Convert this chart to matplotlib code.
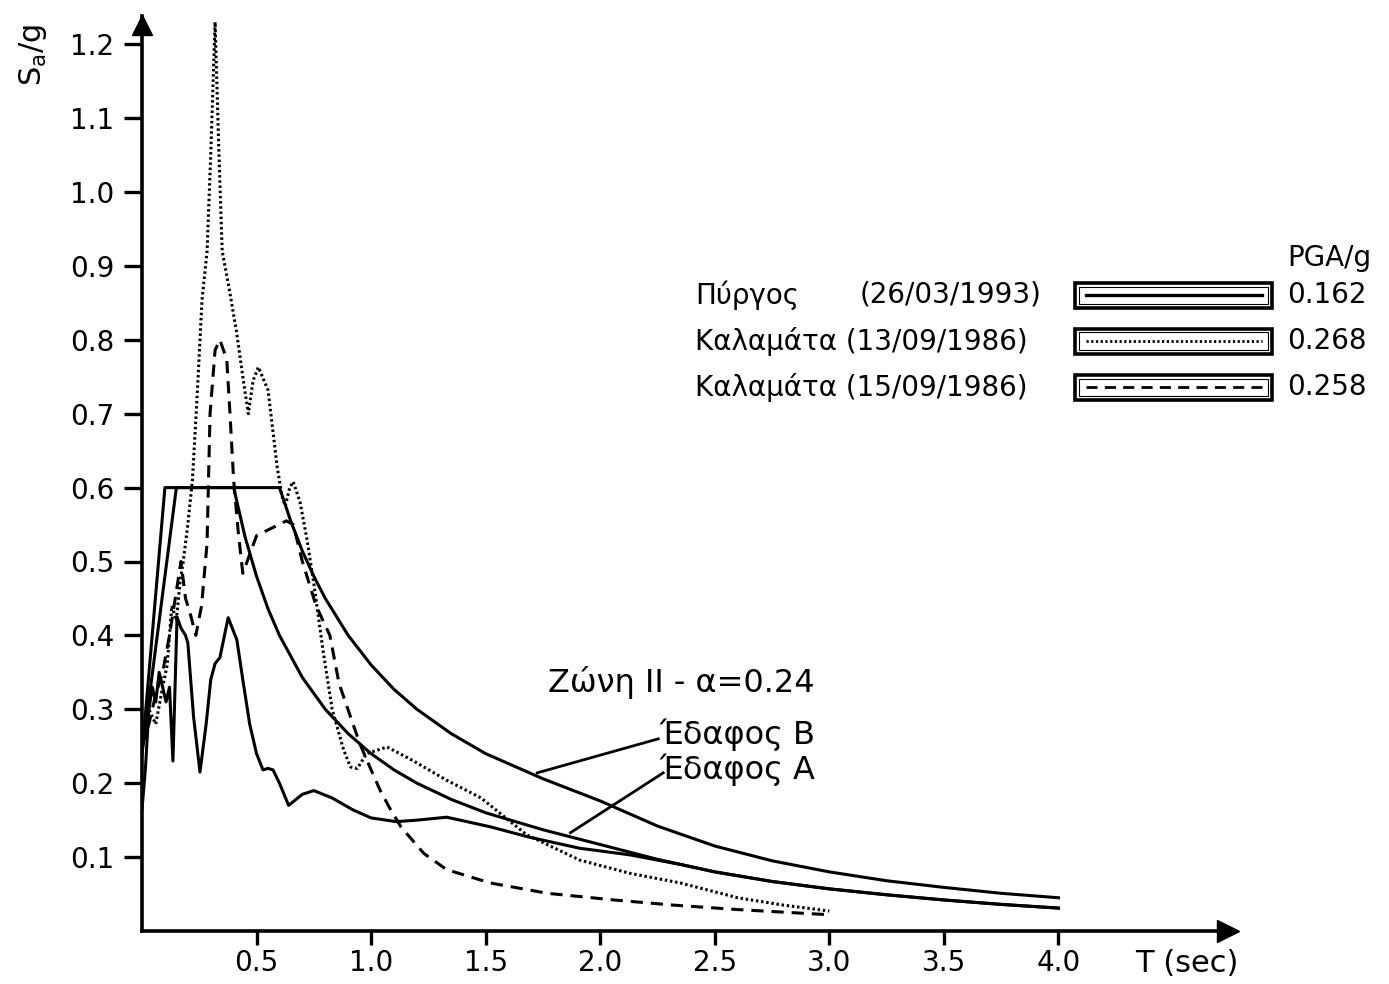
import matplotlib
matplotlib.use("Agg")
from matplotlib import pyplot as plt
from matplotlib.patches import Rectangle
from matplotlib.lines import Line2D

plt.rcParams['font.family'] = ['DejaVu Sans']
plt.rcParams['mathtext.default'] = 'regular'

# design spectra (Zone II, a=0.24)
soilA_T = [0, 0.1, 0.4, 0.45, 0.5, 0.55, 0.6, 0.7, 0.8, 0.9, 1.0, 1.1, 1.2, 1.35, 1.5, 1.75,
           2.0, 2.25, 2.5, 2.75, 3.0, 3.25, 3.5, 3.75, 4.0]
soilA_S = [0.24, 0.6, 0.6, 0.533, 0.48, 0.436, 0.40, 0.343, 0.30, 0.267, 0.24, 0.218, 0.20,
           0.178, 0.16, 0.137, 0.117, 0.097, 0.080, 0.067, 0.057, 0.049, 0.042, 0.036, 0.031]
soilB_T = [0, 0.15, 0.6, 0.65, 0.7, 0.75, 0.8, 0.9, 1.0, 1.1, 1.2, 1.35, 1.5, 1.75, 2.0,
           2.25, 2.5, 2.75, 3.0, 3.25, 3.5, 3.75, 4.0]
soilB_S = [0.24, 0.6, 0.6, 0.554, 0.514, 0.48, 0.45, 0.40, 0.36, 0.327, 0.30, 0.267, 0.24,
           0.206, 0.176, 0.142, 0.115, 0.095, 0.080, 0.068, 0.059, 0.051, 0.045]

# Pyrgos 26/03/1993
pyr_T = [0, 0.015, 0.03, 0.045, 0.06, 0.075, 0.09, 0.105, 0.12, 0.135, 0.153, 0.17, 0.19,
         0.2, 0.225, 0.253, 0.28, 0.30, 0.319, 0.34, 0.376, 0.414, 0.44, 0.47, 0.5, 0.528,
         0.55, 0.572, 0.6, 0.64, 0.70, 0.75, 0.83, 0.92, 1.0, 1.11, 1.2, 1.33, 1.52, 1.69,
         1.91, 2.13, 2.35, 2.5, 2.75, 3.0, 3.25, 3.5, 3.75, 4.0]
pyr_S = [0.165, 0.22, 0.30, 0.33, 0.31, 0.35, 0.33, 0.31, 0.33, 0.23, 0.425, 0.41, 0.40,
         0.39, 0.29, 0.215, 0.28, 0.34, 0.362, 0.37, 0.424, 0.394, 0.34, 0.28, 0.24, 0.218,
         0.22, 0.218, 0.20, 0.17, 0.185, 0.19, 0.18, 0.164, 0.153, 0.148, 0.15, 0.154, 0.141,
         0.127, 0.112, 0.103, 0.090, 0.080, 0.067, 0.057, 0.049, 0.042, 0.036, 0.031]

# Kalamata 13/09/1986
kal1_T = [0, 0.03, 0.06, 0.09, 0.11, 0.13, 0.15, 0.165, 0.18, 0.2, 0.22, 0.24, 0.262, 0.284,
          0.30, 0.319, 0.335, 0.35, 0.38, 0.413, 0.44, 0.464, 0.485, 0.508, 0.55, 0.59, 0.61,
          0.625, 0.645, 0.66, 0.69, 0.72, 0.75, 0.79, 0.83, 0.88, 0.91, 0.94, 0.98, 1.07,
          1.18, 1.33, 1.48, 1.68, 1.91, 2.13, 2.35, 2.6, 2.8, 3.0]
kal1_S = [0.26, 0.30, 0.28, 0.33, 0.36, 0.44, 0.42, 0.47, 0.50, 0.55, 0.61, 0.72, 0.854,
          0.92, 1.05, 1.23, 1.06, 0.92, 0.87, 0.81, 0.75, 0.70, 0.745, 0.763, 0.732, 0.628,
          0.59, 0.575, 0.60, 0.608, 0.58, 0.53, 0.47, 0.38, 0.30, 0.245, 0.222, 0.22, 0.24,
          0.249, 0.231, 0.204, 0.18, 0.13, 0.096, 0.078, 0.065, 0.045, 0.035, 0.027]

# Kalamata 15/09/1986
kal2_T = [0, 0.03, 0.06, 0.09, 0.12, 0.15, 0.17, 0.19, 0.21, 0.235, 0.26, 0.284, 0.297,
          0.319, 0.34, 0.37, 0.384, 0.40, 0.42, 0.44, 0.50, 0.63, 0.66, 0.70, 0.74,
          0.76, 0.82, 0.86, 0.91, 0.95, 1.0, 1.04, 1.08, 1.13, 1.23, 1.33, 1.52, 1.77, 2.06,
          2.32, 2.6, 3.0]
kal2_S = [0.25, 0.28, 0.32, 0.35, 0.40, 0.46, 0.50, 0.45, 0.43, 0.40, 0.44, 0.525, 0.70,
          0.786, 0.80, 0.773, 0.70, 0.61, 0.54, 0.484, 0.535, 0.555, 0.55, 0.50, 0.46,
          0.44, 0.40, 0.335, 0.29, 0.254, 0.218, 0.19, 0.167, 0.141, 0.105, 0.083, 0.065,
          0.051, 0.042, 0.035, 0.029, 0.022]

legend_names = ["Πύργος", "Καλαμάτα (13/09/1986)", "Καλαμάτα (15/09/1986)"]
legend_pga = ["0.162", "0.268", "0.258"]

xticks = [0.5, 1.0, 1.5, 2.0, 2.5, 3.0, 3.5, 4.0]
yticks = [0.1, 0.2, 0.3, 0.4, 0.5, 0.6, 0.7, 0.8, 0.9, 1.0, 1.1, 1.2]

W, H = 1389, 984
fig = plt.figure(figsize=(W / 100, H / 100), dpi=100)
ax = fig.add_axes([142 / W, 53 / H, (1228 - 142) / W, (931 - 16) / H])

lw = 2.2
solid = dict(color='k', lw=lw, solid_joinstyle='round')
ax.plot(soilA_T, soilA_S, **solid)
ax.plot(soilB_T, soilB_S, **solid)
ax.plot(pyr_T, pyr_S, **solid)
ax.plot(kal1_T, kal1_S, color='k', lw=2.2, linestyle=(0, (0.8, 0.9)))
ax.plot(kal2_T, kal2_S, color='k', lw=2.2, linestyle=(0, (4, 2.6)))

ax.set_xlim(0, 4.74)
ax.set_ylim(0, 915 / 739)

for s in ['top', 'right']:
    ax.spines[s].set_visible(False)
for s in ['left', 'bottom']:
    ax.spines[s].set_linewidth(2.6)

ax.set_xticks(xticks)
ax.set_xticklabels(["%.1f" % t for t in xticks])
ax.set_yticks(yticks)
ax.set_yticklabels(["%.1f" % t for t in yticks])
ax.tick_params(axis='both', width=2.4, labelsize=20, colors='k')
ax.tick_params(axis='y', length=13, pad=7)
ax.tick_params(axis='x', length=10, pad=3)

# arrow heads
ax.plot(1, 0, marker='>', color='k', markersize=16, transform=ax.transAxes, clip_on=False)
ax.plot(0, 0.99, marker='^', color='k', markersize=14, transform=ax.transAxes, clip_on=False)

# axis labels
fig.text(33 / W, 1 - 55 / H, r'S$_{a}$/g', rotation=90, fontsize=22, ha='center', va='center')
fig.text(1135 / W, 1 - 963 / H, "T (sec)", fontsize=22, ha='left', va='center')

# annotations
ax.text(1.77, 0.336, "Ζώνη II - α=0.24", fontsize=23, ha='left', va='center')
ax.text(2.26, 0.265, "Έδαφος B", fontsize=23, ha='left', va='center')
ax.text(2.26, 0.218, "Έδαφος A", fontsize=23, ha='left', va='center')
ax.plot([1.725, 2.253], [0.214, 0.26], color='k', lw=2)
ax.plot([1.87, 2.275], [0.133, 0.214], color='k', lw=2)

# legend
rows_y = [295, 341, 387]
styles = ['-', (0, (0.8, 0.9)), (0, (4, 2.6))]
fig.text(1287 / W, 1 - 258 / H, "PGA/g", fontsize=20, ha='left', va='center')
for i in range(3):
    y = 1 - rows_y[i] / H
    fig.text(695 / W, y, legend_names[i], fontsize=20, ha='left', va='center')
    if i == 0:
        fig.text(860 / W, y, "(26/03/1993)", fontsize=20, ha='left', va='center')
    fig.text(1287 / W, y, legend_pga[i], fontsize=20, ha='left', va='center')
    bx0, bx1 = 1075 / W, 1272 / W
    bh = 25 / H
    fig.add_artist(Rectangle((bx0, y - bh / 2), bx1 - bx0, bh, transform=fig.transFigure,
                             fill=False, lw=2.6, ec='k'))
    fig.add_artist(Rectangle((bx0 + 4 / W, y - bh / 2 + 4 / H), bx1 - bx0 - 8 / W, bh - 8 / H,
                             transform=fig.transFigure, fill=False, lw=0.8, ec='k'))
    fig.add_artist(Line2D([1086 / W, 1262 / W], [y, y], transform=fig.transFigure,
                          color='k', lw=2.4 if i == 0 else 2.0, linestyle=styles[i]))

fig.savefig("out.png", dpi=100)
